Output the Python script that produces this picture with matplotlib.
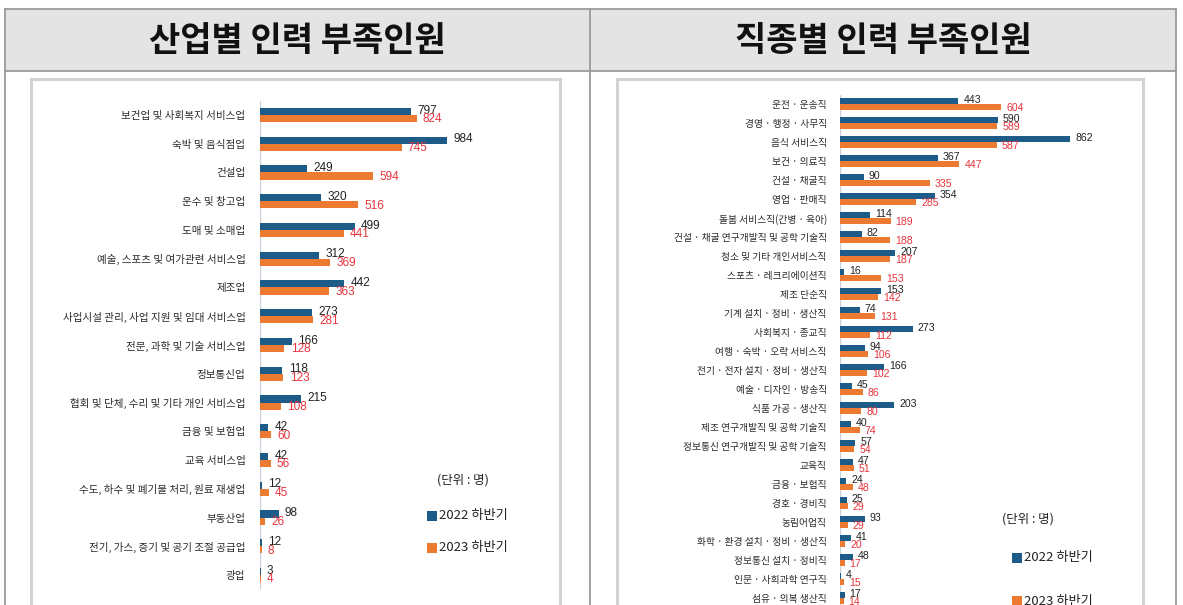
import matplotlib
matplotlib.use('Agg')
import matplotlib.pyplot as plt
from matplotlib.patches import Rectangle
from matplotlib.lines import Line2D
import numpy as np

plt.rcParams['font.family'] = ['Noto Sans CJK KR', 'DejaVu Sans']

# ---------------- data ----------------
titles = ['산업별 인력 부족인원', '직종별 인력 부족인원']
series_names = ['2022 하반기', '2023 하반기']
unit_text = '(단위 : 명)'

ind_labels = ['보건업 및 사회복지 서비스업', '숙박 및 음식점업', '건설업', '운수 및 창고업',
              '도매 및 소매업', '예술, 스포츠 및 여가관련 서비스업', '제조업',
              '사업시설 관리, 사업 지원 및 임대 서비스업', '전문, 과학 및 기술 서비스업',
              '정보통신업', '협회 및 단체, 수리 및 기타 개인 서비스업', '금융 및 보험업',
              '교육 서비스업', '수도, 하수 및 폐기물 처리, 원료 재생업', '부동산업',
              '전기, 가스, 증기 및 공기 조절 공급업', '광업']
ind_2022 = [797, 984, 249, 320, 499, 312, 442, 273, 166, 118, 215, 42, 42, 12, 98, 12, 3]
ind_2023 = [824, 745, 594, 516, 441, 369, 363, 281, 128, 123, 108, 60, 56, 45, 26, 8, 4]

occ_labels = ['운전 · 운송직', '경영 · 행정 · 사무직', '음식 서비스직', '보건 · 의료직',
              '건설 · 채굴직', '영업 · 판매직', '돌봄 서비스직(간병 · 육아)',
              '건설 · 채굴 연구개발직 및 공학 기술직', '청소 및 기타 개인서비스직',
              '스포츠 · 레크리에이션직', '제조 단순직', '기계 설치 · 정비 · 생산직',
              '사회복지 · 종교직', '여행 · 숙박 · 오락 서비스직', '전기 · 전자 설치 · 정비 · 생산직',
              '예술 · 디자인 · 방송직', '식품 가공 · 생산직', '제조 연구개발직 및 공학 기술직',
              '정보통신 연구개발직 및 공학 기술직', '교육직', '금융 · 보험직', '경호 · 경비직',
              '농림어업직', '화학 · 환경 설치 · 정비 · 생산직', '정보통신 설치 · 정비직',
              '인문 · 사회과학 연구직', '섬유 · 의복 생산직']
occ_2022 = [443, 590, 862, 367, 90, 354, 114, 82, 207, 16, 153, 74, 273, 94, 166, 45, 203,
            40, 57, 47, 24, 25, 93, 41, 48, 4, 17]
occ_2023 = [604, 589, 587, 447, 335, 285, 189, 188, 187, 153, 142, 131, 112, 106, 102, 86, 80,
            74, 54, 51, 48, 29, 29, 20, 17, 15, 14]

BLUE = '#1d5b88'
ORANGE = '#ed7a31'
RED_TXT = '#e8343c'

W, H = 1183, 605
fig = plt.figure(figsize=(W / 100, H / 100), dpi=100)
fig.patch.set_facecolor('white')


def fx(x):
    return x / W


def fy(y):
    return 1 - y / H


# ---------------- table frame ----------------
fig.patches.append(Rectangle((fx(5), fy(71)), fx(1176) - fx(5), fy(9) - fy(71),
                             transform=fig.transFigure, facecolor='#e4e4e4',
                             edgecolor='none', zorder=-3))
grid_c = '#9a9a9a'
for (x0, y0, x1, y1) in [(5, 9, 1176, 9), (5, 71, 1176, 71),
                         (5, 9, 5, 610), (590, 9, 590, 610), (1176, 9, 1176, 610)]:
    fig.add_artist(Line2D([fx(x0), fx(x1)], [fy(y0), fy(y1)], transform=fig.transFigure,
                          color=grid_c, lw=1.3, zorder=-1))

fig.text(fx(297), fy(41), titles[0], ha='center', va='center', fontsize=24.5,
         fontweight='black', color='#111111')
fig.text(fx(883), fy(41), titles[1], ha='center', va='center', fontsize=24.5,
         fontweight='black', color='#111111')

# chart image frames
for (x0, x1) in [(31, 560), (617, 1143)]:
    fig.patches.append(Rectangle((fx(x0), fy(612)), fx(x1) - fx(x0), fy(79) - fy(612),
                                 transform=fig.transFigure, facecolor='white',
                                 edgecolor='#d2d2d2', lw=2.2, zorder=-2))


def draw(ax, labels, v22, v23, xmax, h, off, tick_fs, val_fs, dx, pad):
    n = len(labels)
    y = np.arange(n)
    ax.barh(y - off, v22, height=h, color=BLUE, zorder=2)
    ax.barh(y + off, v23, height=h, color=ORANGE, zorder=2)
    ax.set_xlim(0, xmax)
    ax.set_ylim(n - 0.5, -0.5)
    ax.set_yticks(y)
    ax.set_yticklabels(labels, fontsize=tick_fs, color='#2a2a2a', fontweight='medium')
    ax.tick_params(axis='y', length=0, pad=pad)
    ax.set_xticks([])
    for s in ax.spines.values():
        s.set_visible(False)
    ax.axvline(0, color='#c9d3dd', lw=1.0, zorder=1)
    ax.patch.set_alpha(0)
    for i in range(n):
        ax.annotate(str(v22[i]), (v22[i], y[i] - off), xytext=(dx, 0.5),
                    textcoords='offset points', ha='left', va='center',
                    fontsize=val_fs, color='#222222', family='Liberation Sans', zorder=3)
        ax.annotate(str(v23[i]), (v23[i], y[i] + off), xytext=(dx, -0.5),
                    textcoords='offset points', ha='left', va='center',
                    fontsize=val_fs, color=RED_TXT, family='Liberation Sans', zorder=3)


# left chart
top, bot = 100.6, 589.4
axL = fig.add_axes([fx(260), fy(bot), (545 - 260) / W, (bot - top) / H], zorder=5)
draw(axL, ind_labels, ind_2022, ind_2023, 1500, 0.25, 0.125, 7.6, 8.5, 4.5, 10.5)

# right chart
top, bot = 94.5, 607.5
axR = fig.add_axes([fx(840), fy(bot), (1134 - 840) / W, (bot - top) / H], zorder=5)
draw(axR, occ_labels, occ_2022, occ_2023, 1100, 0.3, 0.15, 7.0, 7.6, 3.5, 9.5)


# legends
def legend(xc_unit, y_unit, x_sq, y1, y2, fs):
    fig.text(fx(xc_unit), fy(y_unit), unit_text, ha='center', va='center', fontsize=fs - 0.5,
             color='#222222', fontweight='medium')
    for yy, col, name in [(y1, BLUE, series_names[0]), (y2, ORANGE, series_names[1])]:
        fig.patches.append(Rectangle((fx(x_sq), fy(yy + 5)), 10 / W, 10 / H,
                                     transform=fig.transFigure, facecolor=col,
                                     edgecolor='none', zorder=3))
        fig.text(fx(x_sq + 12), fy(yy), name, ha='left', va='center', fontsize=fs,
                 color='#222222', fontweight='medium')


legend(463, 480, 427, 516, 548, 9.5)
legend(1028, 519, 1012, 558, 601, 9.5)

fig.savefig('out.png', dpi=100)
